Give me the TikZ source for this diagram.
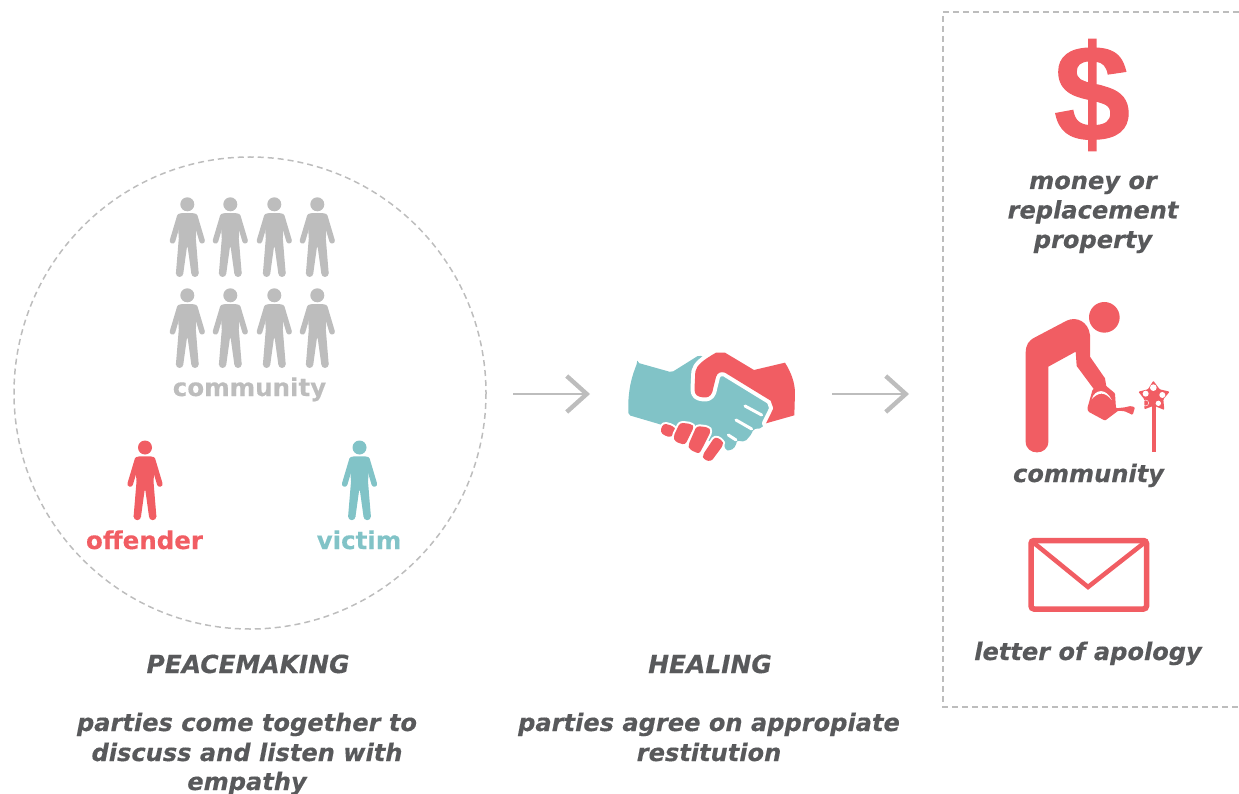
\documentclass[tikz,border=0pt]{standalone}
\usepackage{fontspec}
\setmainfont{DejaVu Sans}[BoldItalicFeatures={FakeBold=0.3},BoldFeatures={FakeBold=0.3}]
\newfontfamily\dollarfont{Liberation Sans}[BoldFeatures={FakeBold=0.8}]
\usetikzlibrary{arrows.meta}
\definecolor{cred}{HTML}{F15D63}
\definecolor{cteal}{HTML}{81C3C7}
\definecolor{cgrey}{HTML}{BDBDBD}
\definecolor{ctext}{HTML}{58595B}
\tikzset{
 x=1pt,y=-1pt,
 capt/.style={anchor=base,text=ctext,inner sep=0pt,font=\fontsize{24.1}{24}\selectfont\bfseries\itshape},
 capthead/.style={anchor=base,text=ctext,inner sep=0pt,font=\fontsize{24.9}{24}\selectfont\bfseries\itshape},
 grouplabel/.style={anchor=base,inner sep=0pt,font=\fontsize{24.5}{24}\selectfont\bfseries},
 guide/.style={draw=cgrey,line width=1.5pt,dash pattern=on 6pt off 4pt},
 flow/.style={draw=cgrey,line width=2.6pt,-{Straight Barb[length=20pt,width=36pt,line width=4.4pt]}},
 pics/person/.style={code={
  \fill[#1] (0,0) circle[radius=7];
  \fill[#1,rounded corners=2.5pt] (-8,8.8)--(8,8.8)--(9.5,14)--(8.5,36)--(-8.5,36)--(-9.5,14)--cycle;
  \draw[#1,line width=5.6pt,line cap=round] (-7.5,12)--(-14.8,36.5);
  \draw[#1,line width=5.6pt,line cap=round] (7.5,12)--(14.8,36.5);
  \fill[#1] (-8.5,34)--(-11.4,69)--(-4,69)--(-0.4,43)--(0.4,43)--(4,69)--(11.4,69)--(8.5,34)--cycle;
  \fill[#1] (-7.7,69) circle[radius=3.7] (7.7,69) circle[radius=3.7];
 }}
}
\begin{document}
\begin{tikzpicture}
\useasboundingbox (0,0) rectangle (1239,794);
\draw[guide] (250,393) circle[radius=236];
\draw[guide] (1239,12)--(943,12)--(943,707)--(1239,707);
\foreach \px in {187.3,230.3,274.3,317.3}{
 \pic at (\px,204.3) {person=cgrey};
 \pic at (\px,295.3) {person=cgrey};
}
\pic at (145,447.5) {person=cred};
\pic at (359.5,447.5) {person=cteal};
\node[grouplabel,text=cgrey] (lcomm) at (249.5,396) {community};
\node[grouplabel,text=cred] (loff) at (144.5,549) {offender};
\node[grouplabel,text=cteal] (lvic) at (359,549) {victim};
\node[capthead] (t1) at (248,673) {PEACEMAKING};
\node[capt] (t2) at (247,731) {parties come together to};
\node[capt] (t3) at (247,761) {discuss and listen with};
\node[capt] (t4) at (247,790) {empathy};
\node[capthead] (t5) at (710,673) {HEALING};
\node[capt] (t6) at (709,731) {parties agree on appropiate};
\node[capt] (t7) at (709,761) {restitution};
\node[capt] (t8) at (1093,189) {money or};
\node[capt] (t9) at (1093,218.5) {replacement};
\node[capt] (t10) at (1093,248) {property};
\node[capt] (t11) at (1088.5,482) {community};
\node[capt] (t12) at (1088,660) {letter of apology};
\coordinate (a1s) at (513,394);\coordinate (a1e) at (590,394);
\coordinate (a2s) at (832,394);\coordinate (a2e) at (909,394);
\draw[flow] (a1s)--(a1e);
\draw[flow] (a2s)--(a2e);
% handshake
\begin{scope}[shift={(610,330)},x=0.3333pt,y=-0.3333pt]
\fill[cteal,rounded corners=2pt] (82,98)--(185,127)--(268,75)--(292,88)--(340,125)--(490,220)--(490,240)--(470,268)--(455,295)--(430,297)--(425,312)--(405,335)--(380,332)--(378,348)--(362,362)--(345,360)--(345,345)--(250,320)--(150,283)--(55,255)--(55,215)..controls (58,170) and (65,140)..(82,98)--cycle;
\draw[white,line width=3pt,line cap=round] (405,228)--(455,255);
\draw[white,line width=3pt,line cap=round] (378,270)--(425,297);
\draw[white,line width=3pt,line cap=round] (355,315)--(378,330);
\path[fill=cred,preaction={draw=white,line width=8pt,line join=round}] (345,68)--(432,120)--(525,98)..controls (545,130) and (555,160)..(555,190)--(553,256)--(468,280)--(483,250)--(490,235)--(482,212)--(345,128)..controls (332,124) and (322,128)..(318,141)--(307,186)..controls (302,201) and (290,204)..(278,202)--(268,200)..controls (255,196) and (252,186)..(254,166)--(256,125)..controls (260,105) and (280,90)..(318,68)--cycle;
\foreach \poly in {
 {(160,280)--(190,288)--(198,300)--(185,322)--(165,318)--(150,305)},
 {(210,278)--(245,282)--(252,292)--(225,345)--(195,335)--(190,320)},
 {(260,288)--(295,292)--(303,303)--(268,372)--(238,358)--(235,345)},
 {(315,320)--(338,332)--(340,345)--(303,395)--(280,388)--(278,375)}}{
 \path[fill=cred,rounded corners=3pt,preaction={draw=white,line width=4pt,line join=round}] \poly--cycle;
}
\end{scope}
% dollar
\node[anchor=center,text=cred,inner sep=0pt,font=\dollarfont\fontsize{137}{137}\selectfont\bfseries] (dollar) at (1092,95) {\$};
% gardener
\begin{scope}[shift={(1010,290)},x=0.3333pt,y=-0.3333pt]
\fill[cred] (283,82) circle[radius=46];
\fill[cred] (47,455)--(47,190)..controls (47,165) and (55,152)..(75,142)--(170,92)..controls (200,78) and (235,95)..(240,135)--(240,200)--(285,265)--(290,295)--(252,298)--(200,228)--(197,185)--(115,230)--(115,455)..controls (115,498) and (47,498)..(47,455)--cycle;
\fill[cred,rounded corners=1pt] (248,298)--(285,285)--(315,310)--(318,355)--(345,352)--(362,348)--(375,352)--(368,375)--(345,364)--(325,362)--(285,392)--(235,365)--(232,355)--cycle;
\fill[white] (245,328)..controls (255,295) and (290,295)..(305,330)..controls (285,305) and (265,305)..(245,328)--cycle;
\fill[cred,rounded corners=1pt] (430,272)--(449,298)--(479,305)--(460,328)--(463,360)--(432,347)--(403,358)--(403,328)--(385,305)--(414,298)--cycle;
\fill[cred] (427,345) rectangle (437,485);
\fill[white] (430,293) circle[radius=10] (457,315) circle[radius=9] (445,340) circle[radius=8] (407,311) circle[radius=9];
\draw[white,line width=0.4pt] (407,339) circle[radius=9];
\end{scope}
% envelope
\draw[cred,line width=5.5pt,rounded corners=3pt] (1031,540.5) rectangle (1146.5,609);
\draw[cred,line width=4.5pt] (1034,543)--(1088,587)--(1144,543);
\end{tikzpicture}
\end{document}
